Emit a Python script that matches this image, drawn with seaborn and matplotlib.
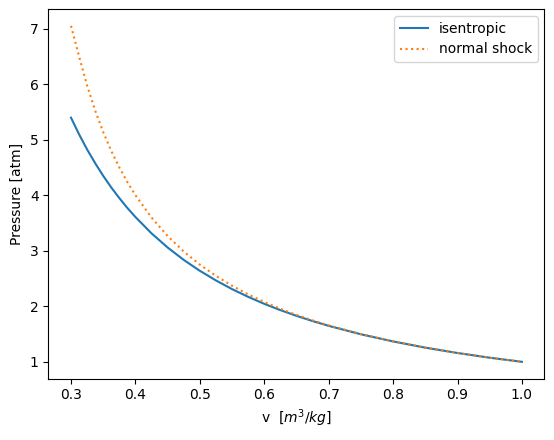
import matplotlib
matplotlib.use("Agg")
import matplotlib.pyplot as plt
import seaborn as sns
import pandas as pd

v = [0.30, 0.3125, 0.325, 0.3375, 0.35, 0.3625, 0.375, 0.3875, 0.40, 0.425, 0.45,
     0.475, 0.50, 0.525, 0.55, 0.575, 0.60, 0.625, 0.65, 0.675,
     0.70, 0.75, 0.80, 0.85, 0.90, 0.95, 1.00]
p_isentropic = [5.396, 5.096, 4.823, 4.576, 4.348, 4.139, 3.948, 3.770, 3.607, 3.313,
                3.058, 2.835, 2.639, 2.465, 2.309, 2.170, 2.044, 1.931, 1.828, 1.734,
                1.648, 1.496, 1.367, 1.255, 1.159, 1.074, 1.000]
p_shock = [7.05, 6.500, 5.974, 5.524, 5.136, 4.798, 4.500, 4.236, 4.000, 3.597,
           3.265, 2.986, 2.750, 2.547, 2.370, 2.214, 2.077, 1.955, 1.845, 1.746,
           1.656, 1.500, 1.368, 1.256, 1.159, 1.074, 1.000]

df = pd.DataFrame({"v": v, "iso": p_isentropic, "shock": p_shock})

fig = plt.figure(figsize=(5.54, 4.40), dpi=100)
ax = fig.add_axes([0.0875, 0.1395, 0.8953, 0.84])
sns.lineplot(data=df, x="v", y="iso", ax=ax, color="#1f77b4", label="isentropic")
sns.lineplot(data=df, x="v", y="shock", ax=ax, color="#ff7f0e", linestyle=":",
             label="normal shock")
ax.set_xlabel(r"v  $[m^3/kg]$")
ax.set_ylabel("Pressure [atm]")
ax.legend(loc="upper right")
fig.savefig("out.png", dpi=100)
